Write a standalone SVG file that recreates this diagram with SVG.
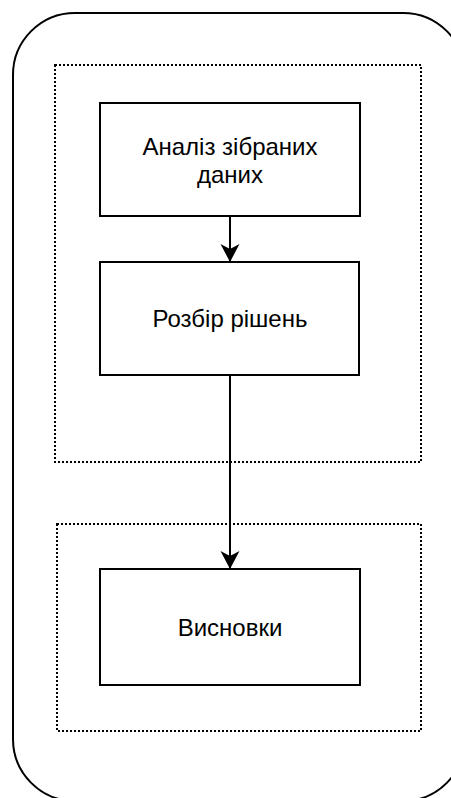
<svg xmlns="http://www.w3.org/2000/svg" width="451" height="798" viewBox="0 0 451 798">
  <style>
    .frame { fill: #ffffff; stroke: #000000; stroke-width: 2; }
    .group { fill: none; stroke: #000000; stroke-width: 2; stroke-dasharray: 2 2; }
    .box { fill: #ffffff; stroke: #000000; stroke-width: 2; }
    .label { font-family: "Liberation Sans", Arial, Helvetica, sans-serif; font-size: 24px; fill: #000000; text-anchor: middle; }
    .edge { fill: none; stroke: #000000; stroke-width: 2; }
  </style>
  <defs>
    <marker id="arrow" markerUnits="userSpaceOnUse" markerWidth="20" markerHeight="20" viewBox="0 0 20 20" refX="18" refY="10" orient="auto">
      <path d="M18,10 L0,0.5 L5,10 L0,19.5 Z" fill="#000000"/>
    </marker>
  </defs>

  <rect width="451" height="798" fill="#ffffff"/>

  <!-- outer rounded frame (runs past the right and bottom edges) -->
  <rect id="frame" class="frame" x="13" y="13" width="452" height="788" rx="62" ry="62"/>

  <!-- dotted groupings -->
  <g id="group-analysis">
    <rect class="group" x="55" y="65" width="366" height="397"/>
  </g>
  <g id="group-conclusions">
    <rect class="group" x="57" y="524" width="364" height="207"/>
  </g>

  <!-- process steps -->
  <g id="node-analysis">
    <rect class="box" x="100" y="103" width="260" height="113"/>
    <text class="label" x="230" y="155">Аналіз зібраних</text>
    <text class="label" x="230" y="183">даних</text>
  </g>
  <g id="node-solutions">
    <rect class="box" x="100" y="262" width="259" height="113"/>
    <text class="label" x="230" y="327">Розбір рішень</text>
  </g>
  <g id="node-conclusions">
    <rect class="box" x="100" y="569" width="260" height="116"/>
    <text class="label" x="230" y="636">Висновки</text>
  </g>

  <!-- connectors -->
  <g id="edges">
    <line class="edge" x1="230" y1="216" x2="230" y2="262" marker-end="url(#arrow)"/>
    <line class="edge" x1="230" y1="375" x2="230" y2="569" marker-end="url(#arrow)"/>
  </g>
</svg>
